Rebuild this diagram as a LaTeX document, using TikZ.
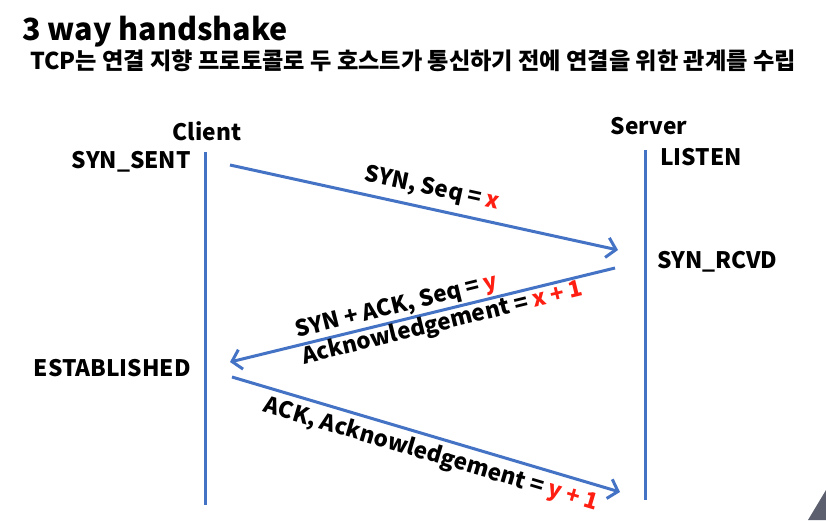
\documentclass[tikz,border=0pt]{standalone}
\usepackage{fontspec}
\setmainfont{Noto Sans CJK KR}
\usetikzlibrary{arrows.meta}
\definecolor{lineblue}{HTML}{4472C4}
\definecolor{redtxt}{HTML}{FF1E12}
\definecolor{cornergray}{HTML}{5B5F6E}
\begin{document}
\begin{tikzpicture}[x=1pt,y=-1pt,
  lifeline/.style={draw=lineblue, line width=3pt},
  msg/.style={draw=lineblue, line width=3pt, -{Straight Barb[length=9pt,width=20pt,line width=3pt]}},
  lbl/.style={font=\fontsize{22.7}{26}\selectfont\bfseries, inner sep=0pt},
  msglbl/.style={font=\fontsize{22.5}{27.5}\selectfont\bfseries, inner sep=0pt}]
\useasboundingbox (0,0) rectangle (826,520);
\fill[white] (0,0) rectangle (826,520);
\fill[cornergray] (808,520) -- (826,490) -- (826,520) -- cycle;

\node[anchor=base west, inner sep=0pt, font=\fontsize{30.5}{34}\selectfont\bfseries] (title) at (22,40) {3 way handshake};
\node[anchor=base west, inner sep=0pt, font=\fontsize{23.2}{26}\selectfont\bfseries] (subtitle) at (30,69) {TCP는 연결 지향 프로토콜로 두 호스트가 통신하기 전에 연결을 위한 관계를 수립};

\node[lbl] (client) at (207,131) {Client};
\node[lbl] (server) at (649,126.5) {Server};

\coordinate (ctop) at (205,152);
\coordinate (cbot) at (205,505);
\coordinate (stop) at (645,150);
\coordinate (sbot) at (645,500);
\draw[lifeline] (ctop) -- (cbot);
\draw[lifeline] (stop) -- (sbot);

\node[lbl, anchor=east] (synsent) at (191,161.5) {SYN\_SENT};
\node[lbl, anchor=east] (established) at (191,368.5) {ESTABLISHED};
\node[lbl, anchor=west] (listen) at (660,157) {LISTEN};
\node[lbl, anchor=west] (synrcvd) at (657,262) {SYN\_RCVD};

\coordinate (a1s) at (230,165);
\coordinate (a1e) at (618,250);
\coordinate (a2s) at (615,268);
\coordinate (a2e) at (230,362);
\coordinate (a3s) at (232,377);
\coordinate (a3e) at (620,492);

\draw[msg] (a1s) -- node[msglbl, sloped, above=7pt, pos=0.51] (l1) {SYN, Seq = \textcolor{redtxt}{x}} (a1e);
\draw[msg] (a2s) -- node[msglbl, sloped, pos=0.456, align=left] (l2) {SYN + ACK, Seq = \textcolor{redtxt}{y}\\Acknowledgement = \textcolor{redtxt}{x + 1}} (a2e);
\draw[msg] (a3s) -- node[msglbl, sloped, below=5pt, pos=0.526] (l3) {ACK, Acknowledgement = \textcolor{redtxt}{y + 1}} (a3e);
\end{tikzpicture}
\end{document}
